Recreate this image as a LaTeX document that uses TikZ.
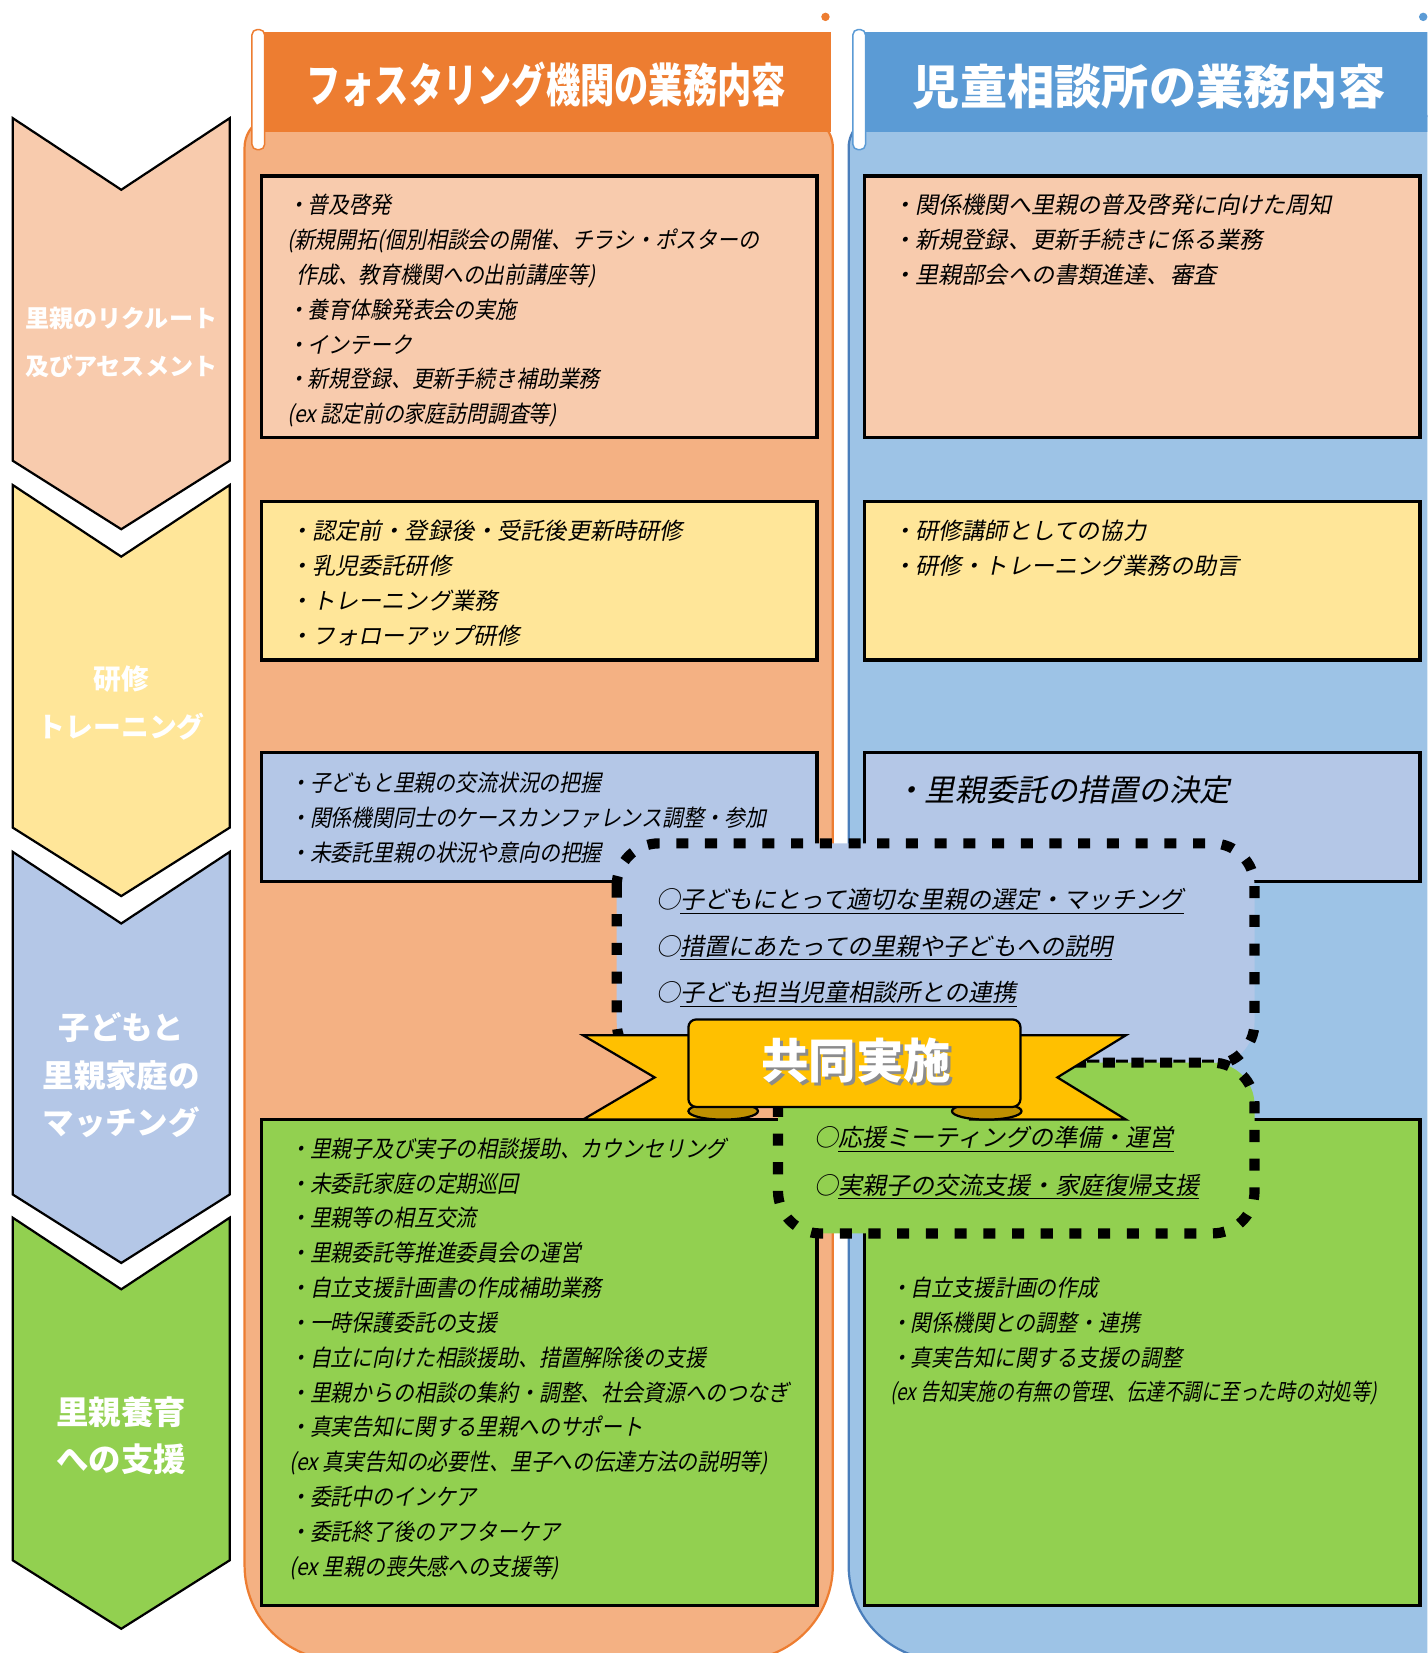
\documentclass[tikz,border=0pt]{standalone}
\usepackage{fontspec}
\newfontfamily\jp{Noto Sans CJK JP}
\newfontfamily\jpit{Noto Sans CJK JP}[FakeSlant=0.2]
\newfontfamily\jpitn{Noto Sans CJK JP}[FakeSlant=0.2,FakeStretch=0.9]
\newfontfamily\jpitc{Noto Sans CJK JP}[FakeSlant=0.2,FakeStretch=0.81]
\newfontfamily\jphdr{Noto Sans CJK JP}[FakeStretch=0.74]

\definecolor{hdrorange}{HTML}{ED7D31}
\definecolor{hdrblue}{HTML}{5B9BD5}
\definecolor{colorange}{HTML}{F4B183}
\definecolor{colblue}{HTML}{9DC3E6}
\definecolor{blueedge}{HTML}{4A7EBB}
\definecolor{peach}{HTML}{F8CBAD}
\definecolor{cream}{HTML}{FFE699}
\definecolor{paleblue}{HTML}{B4C7E7}
\definecolor{leafgreen}{HTML}{92D050}
\definecolor{gold}{HTML}{FFC000}
\definecolor{darkgold}{HTML}{BF9000}

\tikzset{
  box/.style={draw=black, line width=1.7pt},
  chev/.style={draw=black, line width=1.2pt},
  lbl/.style={text=white, align=center, inner sep=0pt,
    font=\jp\bfseries\fontsize{#1}{25.6}\selectfont},
  hdr/.style={text=white, inner sep=0pt},
  itxt/.style={anchor=north west, inner sep=0pt, align=left,
    font=\jpit\fontsize{12.5}{18.8}\selectfont},
  ntxt/.style={anchor=north west, inner sep=0pt, align=left,
    font=\jpitn\fontsize{12.5}{18.8}\selectfont},
  jtxt/.style={anchor=north west, inner sep=0pt, align=left,
    font=\jpit\fontsize{13}{25.3}\selectfont},
  dots/.style={draw=black, line width=5.5pt, dash pattern=on 6.5pt off 9pt,
    rounded corners=0.8cm},
  ribbon/.style={draw=black, line width=1.2pt, fill=gold}
}

\begin{document}
\begin{tikzpicture}[x=0.02cm, y=-0.02cm]
\useasboundingbox (0,0) rectangle (1354,1568);
\clip (0,0) rectangle (1354,1568);

% columns
\draw[draw=hdrorange, line width=1.2pt, fill=colorange]
  (232,600) [rounded corners=0.6cm] -- (232,110) -- (790,110) -- (790,600)
  [rounded corners=1.8cm] -- (790,1575) -- (232,1575) -- cycle;
\draw[draw=blueedge, line width=1.2pt, fill=colblue]
  (805,600) [rounded corners=0.6cm] -- (805,110) -- (1450,110) -- (1450,600)
  [rounded corners=1.8cm] -- (1450,1575) -- (805,1575) -- cycle;

% headers
\fill[hdrorange] (250,30) rectangle (788,125);
\draw[hdrorange, line width=0.8pt, fill=white, rounded corners=0.1cm] (239,28) rectangle (251,142);
\fill[hdrorange] (783,16) circle[radius=4];
\node[hdr, font=\jphdr\bfseries\fontsize{25}{30}\selectfont] (hdrA) at (518,80) {フォスタリング機関の業務内容};

\fill[hdrblue] (820,30) rectangle (1360,125);
\draw[hdrblue, line width=0.8pt, fill=white, rounded corners=0.1cm] (809,28) rectangle (821,142);
\fill[hdrblue] (1350,16) circle[radius=4];
\node[hdr, font=\jp\bfseries\fontsize{25.5}{30}\selectfont] (hdrB) at (1090,82) {児童相談所の業務内容};

% stages
\foreach \t/\c in {112/peach,460/cream,808/paleblue,1155/leafgreen}
  {
    \draw[chev, fill=\c] (12,\t) -- (115,\t+68) -- (218,\t) -- (218,\t+325)
      -- (115,\t+390) -- (12,\t+325) -- cycle;
  }
\node[lbl=13] (stA) at (115,325) {里親のリクルート\\及びアセスメント};
\node[lbl=15] (stB) at (115,667) {研修\\トレーニング};
\node[lbl=17] (stC) at (115,1020) {子どもと\\里親家庭の\\マッチング};
\node[lbl=17.5] (stD) at (115,1362) {里親養育\\への支援};

% boxes
\foreach \x in {248,820}
  {
    \draw[box, fill=peach] (\x,167) rectangle (\x+527,415);
    \draw[box, fill=cream] (\x,476) rectangle (\x+527,626);
    \draw[box, fill=paleblue] (\x,714) rectangle (\x+527,836);
    \draw[box, fill=leafgreen] (\x,1062) rectangle (\x+527,1523);
  }

\node[ntxt] (a1t) at (272,184) {・普及啓発\\
(新規開拓(個別相談会の開催、チラシ・ポスターの\\
\hspace*{5pt}作成、教育機関への出前講座等)\\
・養育体験発表会の実施\\
・インテーク\\
・新規登録、更新手続き補助業務\\
(ex 認定前の家庭訪問調査等)};
\node[itxt] (a2t) at (274,493) {・認定前・登録後・受託後更新時研修\\
・乳児委託研修\\
・トレーニング業務\\
・フォローアップ研修};
\node[ntxt] (a3t) at (274,732) {・子どもと里親の交流状況の把握\\
・関係機関同士のケースカンファレンス調整・参加\\
・未委託里親の状況や意向の把握};
\node[ntxt] (a4t) at (274,1079) {・里親子及び実子の相談援助、カウンセリング\\
・未委託家庭の定期巡回\\
・里親等の相互交流\\
・里親委託等推進委員会の運営\\
・自立支援計画書の作成補助業務\\
・一時保護委託の支援\\
・自立に向けた相談援助、措置解除後の支援\\
・里親からの相談の集約・調整、社会資源へのつなぎ\\
・真実告知に関する里親へのサポート\\
(ex 真実告知の必要性、里子への伝達方法の説明等)\\
・委託中のインケア\\
・委託終了後のアフターケア\\
(ex 里親の喪失感への支援等)};

\node[itxt] (b1t) at (846,184) {・関係機関へ里親の普及啓発に向けた周知\\
・新規登録、更新手続きに係る業務\\
・里親部会への書類進達、審査};
\node[itxt] (b2t) at (846,493) {・研修講師としての協力\\
・研修・トレーニング業務の助言};
\node[itxt, font=\jpit\fontsize{16.5}{20}\selectfont] (b3t) at (848,736) {・里親委託の措置の決定};
\node[ntxt] (b4t) at (844,1211) {・自立支援計画の作成\\
・関係機関との調整・連携\\
・真実告知に関する支援の調整\\
{\jpitc (ex 告知実施の有無の管理、伝達不調に至った時の対処等)}};

% joint work
\draw[dots, fill=paleblue] (585,800) rectangle (1190,1010);
\draw[dots, fill=leafgreen] (738,1008) rectangle (1190,1170);
\node[jtxt] (m1t) at (622,842) {○\underline{子どもにとって適切な里親の選定・マッチング}\\
○\underline{措置にあたっての里親や子どもへの説明}\\
○\underline{子ども担当児童相談所との連携}};
\node[jtxt, font=\jpit\fontsize{13}{25.6}\selectfont] (m2t) at (772,1068) {○\underline{応援ミーティングの準備・運営}\\
○\underline{実親子の交流支援・家庭復帰支援}};

% ribbon
\draw[ribbon] (553,982) -- (700,982) -- (700,1062) -- (553,1062) -- (621,1022) -- cycle;
\draw[ribbon] (1068,982) -- (920,982) -- (920,1062) -- (1068,1062) -- (1003,1022) -- cycle;
\draw[ribbon, fill=darkgold] (686,1054) ellipse[x radius=33, y radius=8];
\draw[ribbon, fill=darkgold] (936,1054) ellipse[x radius=33, y radius=8];
\draw[ribbon, rounded corners=0.15cm] (653,967) rectangle (968,1050);
\node[hdr, text=black!45, font=\jp\bfseries\fontsize{25.6}{30}\selectfont] at (815,1009) {共同実施};
\node[hdr, font=\jp\bfseries\fontsize{25.6}{30}\selectfont] (kyodo) at (812,1006) {共同実施};
\end{tikzpicture}
\end{document}
